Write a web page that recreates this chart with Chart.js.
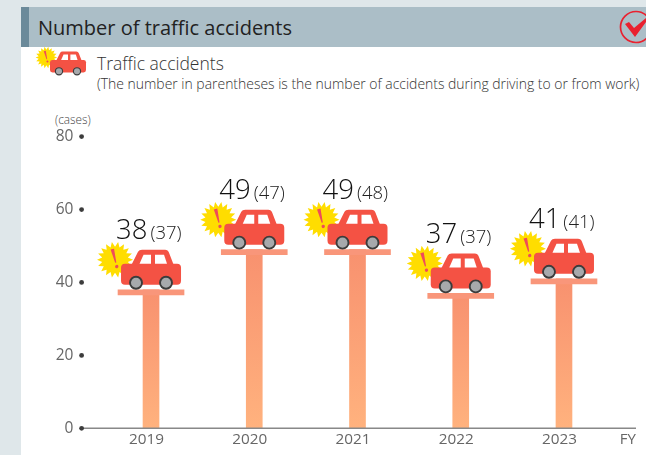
<!DOCTYPE html>
<html><head><meta charset="utf-8">
<style>
html,body{margin:0;padding:0;width:646px;height:455px;overflow:hidden;background:#DFE7EA;font-family:"Open Sans",sans-serif;font-weight:300}
#panel{position:absolute;left:21px;top:47px;width:625px;height:408px;background:#fff}
#band{position:absolute;left:21px;top:7px;width:625px;height:40px;background:#ABBEC7}
#tab{position:absolute;left:0;top:0;width:8px;height:40px;background:#6B8A9A}
#title{position:absolute;left:17px;top:6px;font-size:20px;line-height:29px;color:#222;white-space:nowrap;font-weight:400}
#sub1{position:absolute;left:97px;top:51px;font-size:17.5px;line-height:24px;color:#333;white-space:nowrap}
#sub2{position:absolute;left:97px;top:75px;font-size:13.95px;line-height:18px;color:#333;white-space:nowrap}
#cases{position:absolute;left:55px;top:112px;font-size:11.8px;line-height:15px;color:#444;white-space:nowrap}
#wrap{position:absolute;left:0;top:0;width:646px;height:455px}
canvas{display:block}
</style></head><body>
<div id="panel"></div>
<div id="band"><div id="tab"></div><div id="title">Number of traffic accidents</div></div>
<div id="sub1">Traffic accidents</div>
<div id="sub2">(The number in parentheses is the number of accidents during driving to or from work)</div>
<div id="cases">(cases)</div>
<div id="wrap"><canvas id="c" width="646" height="455"></canvas></div>
<script src="https://cdn.jsdelivr.net/npm/chart.js@4"></script>
<script>
const categories = ["2019","2020","2021","2022","2023"];
const accidents = [38,49,49,37,41];
const commuting = [37,47,48,37,41];
const platformDepth = 1.4;
const axisUnit = "FY";
const FONT = '"Open Sans",sans-serif';

function burst(ctx,x,y,ro,ri,n){
  ctx.beginPath();
  for(let i=0;i<n*2;i++){
    const r=i%2?ri:ro,a=Math.PI*i/n;
    ctx[i?'lineTo':'moveTo'](x+r*Math.cos(a),y+r*Math.sin(a));
  }
  ctx.closePath();ctx.fillStyle='#FFDD00';ctx.fill();
}
function car(ctx,cx,bottom,s){
  ctx.save();ctx.translate(cx,bottom);ctx.scale(s,s);
  burst(ctx,-36,-30,18,13,18);
  ctx.save();ctx.translate(-36,-30);ctx.rotate(-0.25);
  ctx.fillStyle='#EF4B5A';
  ctx.beginPath();ctx.moveTo(-1.8,-11);ctx.lineTo(1.8,-11);ctx.lineTo(0.6,3);ctx.lineTo(-0.6,3);ctx.closePath();ctx.fill();
  ctx.beginPath();ctx.arc(0,7,1.7,0,7);ctx.fill();
  ctx.restore();
  ctx.fillStyle='#F45244';
  ctx.beginPath();ctx.roundRect(-30,-26,60,21,4);ctx.fill();
  ctx.beginPath();ctx.moveTo(-20,-24);ctx.lineTo(-13,-38);ctx.quadraticCurveTo(-12,-40,-9,-40);
  ctx.lineTo(14,-40);ctx.quadraticCurveTo(17,-40,18,-37);ctx.lineTo(23,-24);ctx.closePath();ctx.fill();
  ctx.fillStyle='#fff';
  ctx.beginPath();ctx.moveTo(-11.5,-26);ctx.lineTo(-7.5,-35);ctx.lineTo(0,-35);ctx.lineTo(0,-26);ctx.closePath();ctx.fill();
  ctx.beginPath();ctx.moveTo(4,-26);ctx.lineTo(4,-35);ctx.lineTo(13,-35);ctx.lineTo(16,-26);ctx.closePath();ctx.fill();
  [-15,15].forEach(dx=>{
    ctx.beginPath();ctx.arc(dx,-7,6,0,7);
    ctx.fillStyle='#A7A9AC';ctx.fill();ctx.lineWidth=1.9;ctx.strokeStyle='#3C3C3C';ctx.stroke();
  });
  ctx.restore();
}
const decor={
  id:'decor',
  afterDatasetsDraw(chart){
    const {ctx,scales:{x,y}}=chart;
    ctx.save();
    const y0=y.getPixelForValue(0);
    ctx.strokeStyle='#888';ctx.lineWidth=1.5;
    ctx.beginPath();ctx.moveTo(x.left-17,y0);ctx.lineTo(x.right+20.4,y0);ctx.stroke();
    ctx.fillStyle='#666';ctx.font='400 15px '+FONT;ctx.textAlign='right';ctx.textBaseline='middle';
    ctx.fillText(axisUnit,x.right+20.4,y0+11);
    ctx.fillStyle='#3C3C3C';
    y.ticks.forEach(t=>{ctx.beginPath();ctx.arc(x.left-17.8,y.getPixelForValue(t.value),2.4,0,7);ctx.fill();});
    accidents.forEach((v,i)=>{
      const cx=x.getPixelForValue(i),top=y.getPixelForValue(v);
      car(ctx,cx,top,1);
      ctx.textAlign='left';ctx.textBaseline='alphabetic';
      ctx.fillStyle='#111';ctx.font='300 27.5px '+FONT;
      const big=String(v);
      ctx.fillText(big,cx-35,top-50.5);
      const w=ctx.measureText(big).width;
      ctx.fillStyle='#222';ctx.font='300 18.5px '+FONT;
      ctx.fillText('('+commuting[i]+')',cx-35+w+3,top-50.5);
    });
    car(ctx,68,75.5,0.6);
    ctx.strokeStyle='#E9212F';ctx.lineWidth=1.7;
    ctx.beginPath();ctx.arc(636,27,15.5,0,7);ctx.stroke();
    ctx.fillStyle='#E9212F';
    ctx.beginPath();ctx.moveTo(625,24);ctx.lineTo(629,22);ctx.lineTo(634,28);ctx.lineTo(646,18);ctx.lineTo(646,22);ctx.lineTo(635,37);ctx.closePath();ctx.fill();
    ctx.restore();
  }
};
new Chart(document.getElementById('c'),{
  type:'bar',
  data:{labels:categories,datasets:[
    {label:'Platform',data:accidents.map(v=>[v-platformDepth,v]),backgroundColor:'#F9967A',barThickness:66,grouped:false,order:1},
    {label:'Traffic accidents',data:accidents,barThickness:16,grouped:false,order:2,
     backgroundColor(c){
       const a=c.chart.chartArea;
       if(!a||!c.parsed) return '#F9967A';
       const ys=c.chart.scales.y;
       const g=c.chart.ctx.createLinearGradient(0,ys.getPixelForValue(c.parsed.y),0,ys.getPixelForValue(0));
       g.addColorStop(0,'#F8916F');g.addColorStop(1,'#FFB27E');
       return g;
     }}
  ]},
  plugins:[decor],
  options:{
    responsive:false,animation:false,
    layout:{padding:{top:136.6,right:30.4,left:0,bottom:0}},
    plugins:{legend:{display:false},tooltip:{enabled:false},title:{display:false}},
    scales:{
      x:{grid:{display:false,drawTicks:false},border:{display:false},
         ticks:{color:'#666',font:{family:FONT,size:15.3,weight:400},padding:2,maxRotation:0,labelOffset:-4.5},
         afterFit(s){s.height=455-428.3;s.paddingLeft=0;s.paddingRight=0;}},
      y:{min:0,max:80,grid:{display:false,drawTicks:false},border:{display:false},
         ticks:{stepSize:20,color:'#666',font:{family:FONT,size:15.5,weight:400},padding:26},
         afterFit(s){s.width=99.4;s.paddingTop=0;s.paddingBottom=0;}}
    }
  }
});
</script>
</body></html>
